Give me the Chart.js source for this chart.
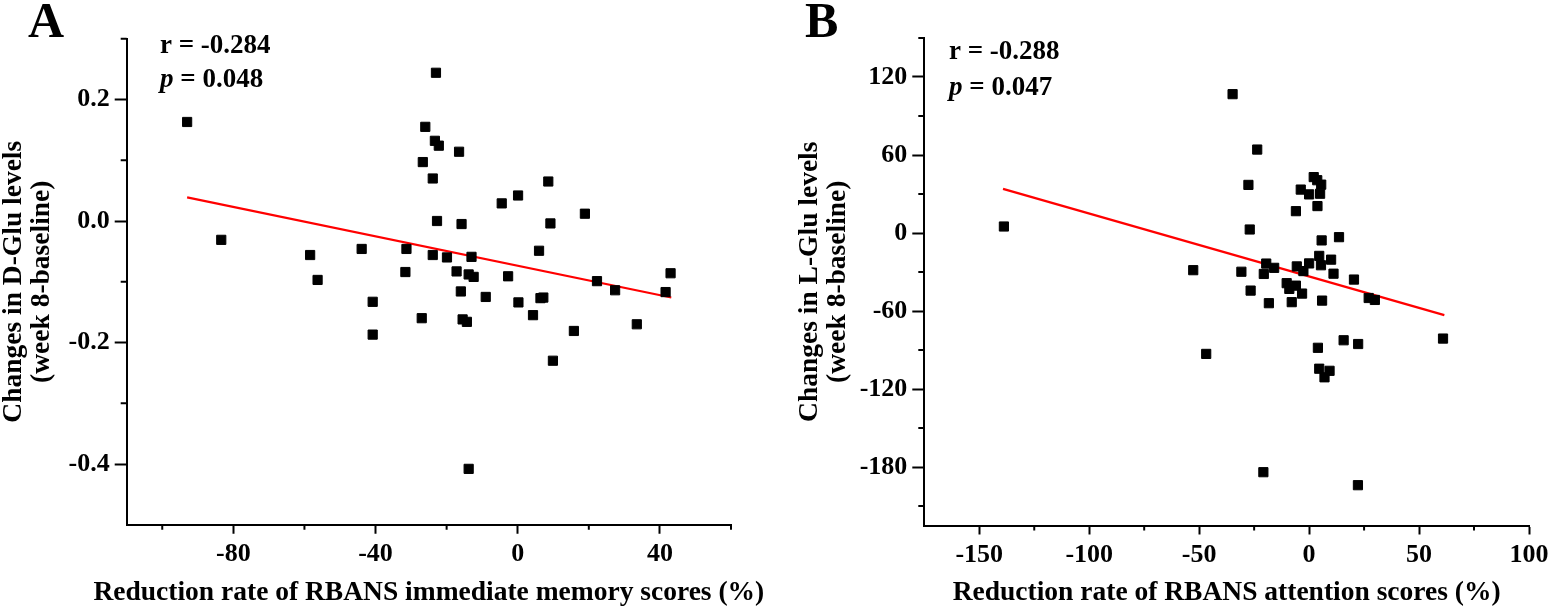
<!DOCTYPE html>
<html>
<head>
<meta charset="utf-8">
<script src="https://cdn.jsdelivr.net/npm/chart.js@4.4.1/dist/chart.umd.min.js"></script>
<style>
html,body{margin:0;padding:0;background:#fff;width:1554px;height:613px;overflow:hidden}
#wrapA{position:absolute;left:0;top:0;width:777px;height:613px}
#wrapB{position:absolute;left:777px;top:0;width:777px;height:613px}
</style>
</head>
<body>
<div id="wrapA"><canvas id="cA"></canvas></div>
<div id="wrapB"><canvas id="cB"></canvas></div>
<script>
// ---- Panel A data ----
const memX = [-93.0,-83.4,-58.4,-56.3,-43.9,-40.8,-40.8,-31.3,-31.6,-27.0,-26.7,-26.0,-23.9,-23.9,-23.3,-23.0,-22.7,-22.2,-19.9,-17.2,-16.5,-16.0,-15.8,-15.5,-14.3,-13.8,-13.0,-12.4,-13.8,-9.0,-4.5,-2.7,0.1,0.2,4.3,6.0,6.4,7.2,8.6,9.2,9.9,15.8,18.9,22.3,27.4,33.5,41.6,43.0];
const dGlu = [0.163,-0.031,-0.056,-0.097,-0.046,-0.133,-0.187,-0.046,-0.084,-0.160,0.097,0.155,0.070,-0.056,0.132,0.244,0.000,0.124,-0.060,-0.083,0.114,-0.116,-0.005,-0.162,-0.166,-0.088,-0.059,-0.092,-0.408,-0.125,0.029,-0.091,0.042,-0.134,-0.155,-0.049,-0.127,-0.126,0.065,-0.004,-0.230,-0.181,0.012,-0.099,-0.114,-0.170,-0.117,-0.086];
const fitAx = [-93.0, 43.2];
const fitAy = [0.039, -0.126];
const ticksAx = [-80, -40, 0, 40];
const minorAx = [-100, -60, -20, 20, 60];
const ticksAy = [0.2, 0.0, -0.2, -0.4];
const minorAy = [0.3, 0.1, -0.1, -0.3];

// ---- Panel B data ----
const attX = [-138.8,-52.7,-46.8,-34.8,-30.8,-27.6,-27.0,-26.6,-23.6,-20.8,-19.5,-15.9,-20.6,-18.3,-10.2,-9.0,-6.0,-3.2,-7.9,-5.6,0.0,-2.6,4.6,5.4,10.0,11.1,20.4,5.9,27.1,29.9,15.7,22.3,4.0,4.6,9.3,7.0,22.2,60.9,5.7,13.6,2.1,3.7,5.5,5.0,0.0,-3.8,3.8,-6.0];
const lGlu = [5.0,-28.6,-93.0,106.8,-29.8,37.0,2.7,-44.3,64.2,-184.0,-23.5,-26.8,-31.5,-54.0,-38.6,-43.0,-40.5,-46.6,-53.2,-25.7,-23.4,-29.3,-17.6,-24.8,-20.5,-31.3,-35.8,-52.0,-50.0,-51.5,-82.5,-85.4,-88.3,-104.4,-106.0,-111.0,-194.0,-81.2,-5.7,-3.2,43.0,40.6,37.2,30.2,29.7,33.4,20.7,16.8];
const fitBx = [-139.2, 61.5];
const fitBy = [33.9, -63.2];
const ticksBx = [-150, -100, -50, 0, 50, 100];
const minorBx = [-125, -75, -25, 25, 75];
const ticksBy = [120, 60, 0, -60, -120, -180];
const minorBy = [150, 90, 30, -30, -90, -150, -210];

const FAM = '"Liberation Serif", "Times New Roman", serif';

const annot = {
  id: 'annot',
  afterDraw(chart, args, o) {
    const ctx = chart.ctx;
    const xs = chart.scales.x, ys = chart.scales.y;
    ctx.save();
    ctx.strokeStyle = '#000';
    ctx.lineWidth = 2;
    o.minorX.forEach(v => {
      const p = xs.getPixelForValue(v);
      ctx.beginPath(); ctx.moveTo(p, xs.top); ctx.lineTo(p, xs.top + 5); ctx.stroke();
    });
    o.minorY.forEach(v => {
      const p = ys.getPixelForValue(v);
      ctx.beginPath(); ctx.moveTo(ys.right, p); ctx.lineTo(ys.right - 6, p); ctx.stroke();
    });
    ctx.fillStyle = '#000';
    // x-axis title (drawn without width compression)
    ctx.textAlign = 'center';
    ctx.textBaseline = 'middle';
    ctx.font = 'bold 27.5px ' + FAM;
    ctx.fillText(o.xTitle, (xs.left + xs.right) / 2, 593);
    // panel letter and statistics
    ctx.textBaseline = 'alphabetic';
    ctx.textAlign = 'left';
    ctx.font = 'bold 50px ' + FAM;
    ctx.fillText(o.letter, o.letterX, 37);
    ctx.font = 'bold 27px ' + FAM;
    ctx.fillText(o.rText, o.textX, o.rY);
    ctx.font = 'italic bold 27px ' + FAM;
    ctx.fillText('p', o.textX, o.pY);
    const w = ctx.measureText('p').width;
    ctx.font = 'bold 27px ' + FAM;
    ctx.fillText(o.pText, o.textX + w, o.pY);
    ctx.restore();
  }
};

function makeChart(id, xs, ys, fx, fy, cfg) {
  const tickFont = {family: FAM, size: 26, weight: 'bold'};
  return new Chart(document.getElementById(id), {
    type: 'scatter',
    data: {
      datasets: [
        {
          data: xs.map((x, i) => ({x: x, y: ys[i]})),
          pointStyle: 'rect', pointRadius: 6.5, pointHoverRadius: 6.5,
          backgroundColor: '#000', borderColor: '#000', borderWidth: 1, order: 0
        },
        {
          type: 'line',
          data: fx.map((x, i) => ({x: x, y: fy[i]})),
          borderColor: '#ff0000', borderWidth: 2.2, pointRadius: 0, fill: false, order: 1
        }
      ]
    },
    options: {
      responsive: true, maintainAspectRatio: false, animation: false,
      layout: {padding: cfg.padding},
      plugins: {legend: {display: false}, tooltip: {enabled: false}, annot: cfg.annot},
      scales: {
        x: {
          type: 'linear', position: 'bottom', min: cfg.xmin, max: cfg.xmax,
          afterBuildTicks: s => { s.ticks = cfg.xt.map(v => ({value: v})); },
          afterFit: s => { s.height = cfg.xh; },
          ticks: {callback: v => String(v), font: tickFont, color: '#000', padding: 5, maxRotation: 0, autoSkip: false},
          grid: {drawOnChartArea: false, drawTicks: true, tickLength: 9, tickWidth: 2, tickColor: '#000', color: '#000'},
          border: {display: true, color: '#000', width: 2},
          title: {display: false}
        },
        y: {
          type: 'linear', position: 'left', min: cfg.ymin, max: cfg.ymax,
          afterBuildTicks: s => { s.ticks = cfg.yt.map(v => ({value: v})); },
          afterFit: s => { s.width = cfg.yw; },
          ticks: {callback: cfg.yfmt, font: tickFont, color: '#000', padding: 5, autoSkip: false},
          grid: {drawOnChartArea: false, drawTicks: true, tickLength: 12, tickWidth: 2, tickColor: '#000', color: '#000'},
          border: {display: true, color: '#000', width: 2},
          title: {display: true, text: cfg.ytitle, font: {family: FAM, size: 27.5, weight: 'bold', lineHeight: 28 / 27.5}, color: '#000', padding: {top: cfg.ytpad, bottom: 0}}
        }
      }
    },
    plugins: [annot]
  });
}

makeChart('cA', memX, dGlu, fitAx, fitAy, {
  padding: {top: 38.75, right: 46, bottom: 0, left: 0},
  xmin: -110, xmax: 60, ymin: -0.5, ymax: 0.3,
  xt: ticksAx, yt: ticksAy, xh: 88.25, yw: 126.7, ytpad: 0,
  yfmt: v => Number(v).toFixed(1),
  ytitle: ['Changes in D-Glu levels', '(week 8-baseline)'],
  annot: {minorX: minorAx, minorY: minorAy, letter: 'A', letterX: 28, textX: 160, rY: 53, pY: 87, rText: 'r = -0.284', pText: ' = 0.048',
          xTitle: 'Reduction rate of RBANS immediate memory scores (%)'}
});

makeChart('cB', attX, lGlu, fitBx, fitBy, {
  padding: {top: 38, right: 25, bottom: 0, left: 0},
  xmin: -175, xmax: 100, ymin: -225, ymax: 150,
  xt: ticksBx, yt: ticksBy, xh: 87.5, yw: 147.3, ytpad: 19,
  yfmt: v => String(v),
  ytitle: ['Changes in L-Glu levels', '(week 8-baseline)'],
  annot: {minorX: minorBx, minorY: minorBy, letter: 'B', letterX: 28, textX: 172, rY: 59, pY: 95, rText: 'r = -0.288', pText: ' = 0.047',
          xTitle: 'Reduction rate of RBANS attention scores (%)'}
});
</script>
</body>
</html>
